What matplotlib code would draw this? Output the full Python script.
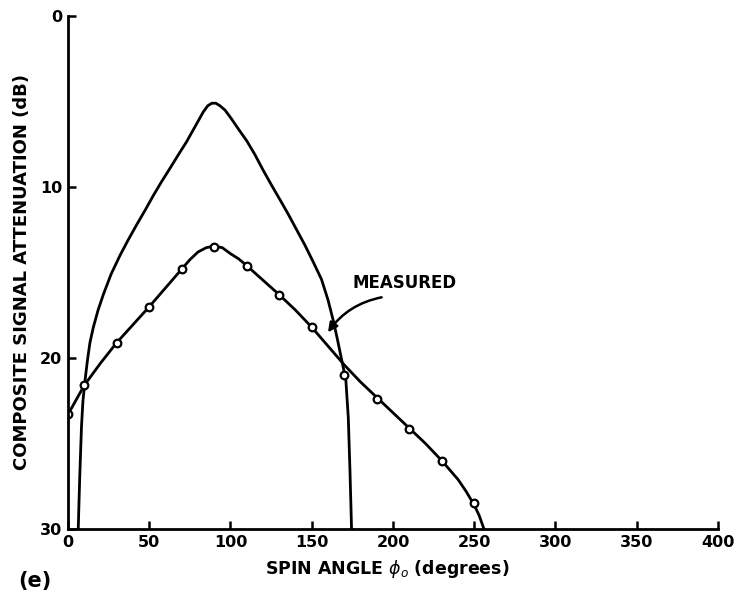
import matplotlib
matplotlib.use('Agg')
import matplotlib.pyplot as plt

# puntos medidos (círculos)
medido_x = [0, 10, 30, 50, 70, 90, 110, 130, 150, 170, 190, 210, 230, 250]
medido_y = [23.3, 21.6, 19.1, 17.0, 14.8, 13.5, 14.6, 16.3, 18.2, 21.0, 22.4, 24.15, 26.0, 28.5]

curva_med_x = [0, 10, 20, 30, 40, 50, 60, 70, 75, 80, 85, 90, 95, 100, 105, 110, 120,
               130, 140, 150, 160, 170, 180, 190, 200, 210, 220, 230, 240, 245, 250,
               253, 256]
curva_med_y = [23.3, 21.6, 20.3, 19.1, 18.05, 17.0, 15.9, 14.8, 14.25, 13.8, 13.55,
               13.45, 13.55, 13.9, 14.2, 14.6, 15.45, 16.3, 17.2, 18.2, 19.3, 20.4,
               21.4, 22.3, 23.2, 24.1, 25.0, 26.0, 27.1, 27.8, 28.6, 29.2, 30.0]

# curva teórica
teor_x = [6.3, 7.2, 8.3, 9.2, 10.5, 12, 13.5, 15.6, 18.5, 21.7, 26.5, 32, 37, 42.3,
          47.5, 52.5, 57.5, 62.8, 68, 73, 78, 83.3, 86, 88.5, 91, 93.5, 96.6, 100.5,
          104.8, 110, 115, 120, 125.3, 130.5, 135.6, 140.7, 145.8, 151, 156, 160,
          163.5, 166, 168.4, 171, 172.5, 173.5, 174.5]
teor_y = [30, 27, 24, 22.5, 21.3, 20.1, 19.1, 18.2, 17.2, 16.3, 15.1, 14.0, 13.1, 12.2,
          11.35, 10.5, 9.7, 8.9, 8.1, 7.35, 6.5, 5.6, 5.25, 5.1, 5.1, 5.25, 5.5, 6.0,
          6.6, 7.3, 8.1, 9.0, 9.9, 10.75, 11.6, 12.5, 13.4, 14.4, 15.4, 16.6, 17.9,
          19.0, 20.1, 21.3, 23.5, 26.5, 30]

x_ticks = [0, 50, 100, 150, 200, 250, 300, 350, 400]
y_ticks = [0, 10, 20, 30]

fig = plt.figure(figsize=(7.36, 5.95), dpi=100)
ax = fig.add_axes([0.0924, 0.1109, 0.8831, 0.8622])

ax.plot(teor_x, teor_y, color='black', lw=2.0, solid_joinstyle='round')
ax.plot(curva_med_x, curva_med_y, color='black', lw=2.0, solid_joinstyle='round')
ax.plot(medido_x, medido_y, 'o', ms=5.5, mfc='white', mec='black', mew=1.6)

ax.set_xlim(0, 400)
ax.set_ylim(30, 0)
ax.set_xticks(x_ticks)
ax.set_yticks(y_ticks)
ax.tick_params(direction='in', length=6, width=1.8, labelsize=11.5, pad=4)
for lab in ax.get_xticklabels() + ax.get_yticklabels():
    lab.set_fontweight('bold')

for s in ['top', 'right']:
    ax.spines[s].set_visible(False)
for s in ['left', 'bottom']:
    ax.spines[s].set_linewidth(2.0)

# etiqueta y flecha curva
ax.text(207, 15.6, 'MEASURED', ha='center', va='center', fontsize=12, fontweight='bold')
ax.annotate('', xy=(160, 18.5), xytext=(193, 16.45),
            arrowprops=dict(arrowstyle='-|>', color='black', lw=1.8,
                            mutation_scale=14, shrinkA=0, shrinkB=0,
                            connectionstyle='arc3,rad=0.2'))

fig.text(0.030, 0.543, 'COMPOSITE SIGNAL ATTENUATION (dB)', rotation=90,
         ha='center', va='center', fontsize=13, fontweight='bold')
fig.text(0.526, 0.044, r'SPIN ANGLE $\phi_o$ (degrees)', ha='center', va='center',
         fontsize=12.5, fontweight='bold')
fig.text(0.025, 0.023, '(e)', ha='left', va='center', fontsize=15, fontweight='bold')

plt.savefig('out.png', dpi=100)
